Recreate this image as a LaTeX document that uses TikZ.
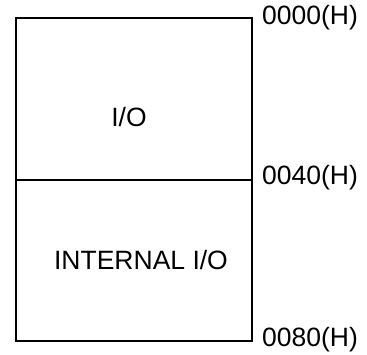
\documentclass[tikz,border=0pt]{standalone}
\usepackage{fontspec}
\setmainfont{Liberation Sans}
\begin{document}
\begin{tikzpicture}[x=1pt,y=-1pt,
  region/.style={draw=black,line width=2.2pt,minimum width=236pt,inner sep=0pt,anchor=north west},
  lab/.style={inner sep=0pt,font=\fontsize{26.5}{28}\selectfont},
  addr/.style={lab,anchor=west}]
\useasboundingbox (0,0) rectangle (367,354);
\node[region,minimum height=162pt] (io) at (15,17) {};
\node[region,minimum height=161pt] (iio) at (15,179) {};
\node[lab] (iolab) at (129,117) {I/O};
\node[lab] (iiolab) at (141,260) {INTERNAL I/O};
\node[addr] (a0) at (262,18) {0000(H)};
\node[addr] (a1) at (262,178) {0040(H)};
\node[addr] (a2) at (262,340) {0080(H)};
\end{tikzpicture}
\end{document}
